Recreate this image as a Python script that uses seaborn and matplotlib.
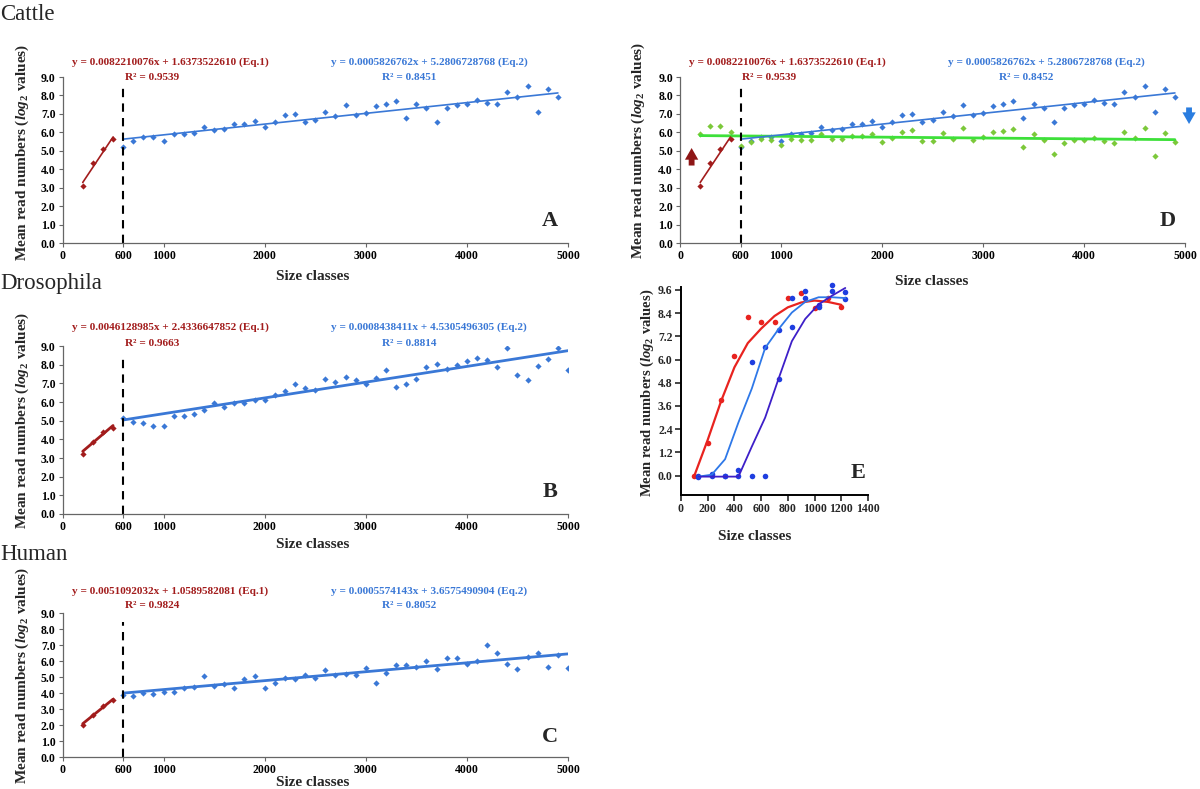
import numpy as np
import pandas as pd
import matplotlib
matplotlib.use("Agg")
import matplotlib.pyplot as plt
import seaborn as sns

W, H = 1200, 789

# ---- size classes ----
short_x = [200, 300, 400, 500]
cattle_x2 = list(range(600, 5000, 100))      # 600..4900
long_x = list(range(600, 5001, 100))         # 600..5000
green_x = list(range(200, 5000, 100))        # 200..4900

# ---- Cattle ----
cattle_y1 = [3.10, 4.35, 5.10, 5.62]
cattle_y2 = [5.22, 5.51, 5.72, 5.74, 5.55, 5.89, 5.91, 5.95, 6.31, 6.14,
             6.20, 6.44, 6.44, 6.62, 6.29, 6.54, 6.94, 7.02, 6.54, 6.65,
             7.09, 6.86, 7.46, 6.94, 7.07, 7.44, 7.55, 7.72, 6.79, 7.55,
             7.32, 6.58, 7.30, 7.46, 7.55, 7.74, 7.59, 7.51, 8.20, 7.92,
             8.53, 7.09, 8.36, 7.92]
cattle_green = [5.93, 6.37, 6.37, 6.01, 5.27, 5.46, 5.65, 5.61, 5.34, 5.63,
                5.59, 5.57, 5.89, 5.65, 5.65, 5.82, 5.78, 5.91, 5.49, 5.70,
                6.03, 6.10, 5.53, 5.55, 5.95, 5.65, 6.22, 5.61, 5.72, 6.03,
                6.08, 6.16, 5.19, 5.89, 5.61, 4.81, 5.44, 5.59, 5.61, 5.70,
                5.53, 5.40, 6.03, 5.71, 6.24, 4.73, 5.97, 5.46]
cattle_fit1 = (0.0082210076, 1.6373522610)
cattle_fit2 = (0.0005826762, 5.2806728768)

# ---- Drosophila ----
dros_y1 = [3.22, 3.87, 4.37, 4.62]
dros_y2 = [5.13, 4.94, 4.85, 4.71, 4.71, 5.25, 5.27, 5.36, 5.57, 5.92,
           5.74, 5.92, 5.92, 6.13, 6.09, 6.39, 6.60, 6.95, 6.76, 6.66,
           7.21, 7.08, 7.33, 7.16, 6.95, 7.29, 7.69, 6.81, 6.97, 7.21,
           7.90, 8.03, 7.77, 7.98, 8.19, 8.38, 8.24, 7.90, 8.91, 7.46,
           7.17, 7.93, 8.29, 8.90, 7.69]
dros_fit1 = (0.0046128985, 2.4336647852)
dros_fit2 = (0.0008438411, 4.5305496305)

# ---- Human ----
human_y1 = [2.02, 2.65, 3.19, 3.59]
human_y2 = [3.89, 3.84, 4.03, 3.93, 4.08, 4.08, 4.31, 4.35, 5.04, 4.43,
            4.54, 4.33, 4.89, 5.08, 4.31, 4.64, 4.94, 4.85, 5.15, 4.94,
            5.46, 5.11, 5.17, 5.11, 5.55, 4.64, 5.23, 5.78, 5.78, 5.65,
            6.01, 5.53, 6.20, 6.18, 5.80, 5.99, 7.00, 6.53, 5.80, 5.47,
            6.27, 6.51, 5.61, 6.40, 5.55]
human_fit1 = (0.0051092032, 1.0589582081)
human_fit2 = (0.0005574143, 3.6575490904)

# ---- panel E ----
e_red_x = [100, 200, 300, 400, 500, 600, 700, 800, 900, 1000, 1100, 1200]
e_red_pts = [0.0, 1.70, 3.89, 6.16, 8.19, 7.92, 7.95, 9.17, 9.45, 8.64, 9.17, 8.74]
e_red_curve = [0.0, 1.85, 3.85, 5.6, 6.85, 7.6, 8.25, 8.7, 8.95, 9.05, 8.98, 8.83]
e_blue_x = [130, 230, 330, 430, 530, 630, 730, 830, 930, 1030, 1130, 1230]
e_light_pts = [0.0, 0.09, 0.0, 0.29, 5.85, 6.63, 7.54, 9.16, 9.20, 8.80, 9.52, 9.12]
e_light_curve = [-0.05, 0.05, 0.85, 2.75, 4.5, 6.6, 7.57, 8.43, 8.98, 9.22, 9.22, 9.18]
e_purple_pts = [-0.05, 0.0, 0.0, 0.0, -0.03, 0.0, 5.0, 7.69, 9.52, 8.70, 9.86, 9.50]
e_purple_curve = [-0.05, -0.05, -0.05, -0.05, 1.5, 3.0, 5.0, 6.95, 8.1, 8.85, 9.3, 9.7]

x_ticks = [0, 600, 1000, 2000, 3000, 4000, 5000]
y_ticks = [0, 1, 2, 3, 4, 5, 6, 7, 8, 9]
e_x_ticks = [0, 200, 400, 600, 800, 1000, 1200, 1400]
e_y_ticks = [0.0, 1.2, 2.4, 3.6, 4.8, 6.0, 7.2, 8.4, 9.6]

RED = '#a21c1c'
BLUE = '#3a78d6'
GREEN_PT = '#7cc83a'
GREEN_LN = '#3ee03a'
YLABEL = 'Mean read numbers ($log_2$ values)'

sns.set_theme(style="ticks")
plt.rcParams['font.family'] = ['Liberation Serif', 'DejaVu Serif']
plt.rcParams['font.weight'] = 'bold'
plt.rcParams['mathtext.fontset'] = 'custom'
plt.rcParams['mathtext.rm'] = 'Liberation Serif:bold'
plt.rcParams['mathtext.it'] = 'Liberation Serif:italic:bold'
plt.rcParams['mathtext.bf'] = 'Liberation Serif:bold'

fig = plt.figure(figsize=(W / 100, H / 100), dpi=100)


def rect(x0, x1, ytop, ybot):
    return [x0 / W, 1 - ybot / H, (x1 - x0) / W, (ybot - ytop) / H]


def ftext(x, y, s, **kw):
    fig.text(x / W, 1 - y / H, s, **kw)


def fit_line(xs, fit):
    m, b = fit
    xe = [xs[0], xs[-1]]
    return xe, [m * v + b for v in xe]


def panel(box, x2, y1, y2, fit1, fit2, letter, lw, green=None):
    ax = fig.add_axes(box)
    sns.scatterplot(x=short_x, y=y1, ax=ax, color=RED, marker='D', s=10,
                    linewidth=0, legend=False)
    sns.scatterplot(x=x2, y=y2, ax=ax, color=BLUE, marker='D', s=10,
                    linewidth=0, legend=False)
    if green is not None:
        sns.scatterplot(x=green_x, y=green, ax=ax, color=GREEN_PT, marker='D',
                        s=10, linewidth=0, legend=False)
        gm, gb = np.polyfit(green_x, green, 1)
        sns.lineplot(x=[green_x[0], green_x[-1]],
                     y=[gm * green_x[0] + gb, gm * green_x[-1] + gb],
                     ax=ax, color=GREEN_LN, lw=2.0)
    lx, ly = fit_line(short_x, fit1)
    sns.lineplot(x=lx, y=ly, ax=ax, color=RED, lw=lw)
    lx, ly = fit_line(x2, fit2)
    sns.lineplot(x=lx, y=ly, ax=ax, color=BLUE, lw=lw)
    ax.vlines(600, 0, 8.45, colors='black', linestyles=(0, (4, 3)), lw=1.5)
    ax.set_xlim(0, 5000)
    ax.set_ylim(0, 9)
    ax.set_xticks(x_ticks)
    ax.set_xticklabels([str(v) for v in x_ticks])
    ax.set_yticks(y_ticks)
    ax.set_yticklabels([f'{v:.1f}' for v in y_ticks])
    ax.set_xlabel('')
    ax.set_ylabel('')
    sns.despine(ax=ax)
    for sp in ('left', 'bottom'):
        ax.spines[sp].set_color('#666666')
        ax.spines[sp].set_linewidth(0.9)
    ax.tick_params(direction='out', length=3, width=0.8, color='#666666',
                   labelsize=8.5, pad=2, labelcolor='black')
    for t in ax.get_xticklabels() + ax.get_yticklabels():
        t.set_fontweight('bold')
    ax.text(0.965, 0.07, letter, transform=ax.transAxes, fontsize=16,
            fontweight='bold', ha='center', va='bottom')
    return ax


def labels(dx, eq1, r1, eq2, r2, yeq, yr):
    kw = dict(fontsize=8.1, ha='center', va='center')
    ftext(170 + dx, yeq, eq1, color=RED, **kw)
    ftext(152 + dx, yr, r1, color=RED, **kw)
    ftext(429 + dx, yeq, eq2, color=BLUE, **kw)
    ftext(409 + dx, yr, r2, color=BLUE, **kw)


# A
panel(rect(62.5, 568, 77, 243), cattle_x2, cattle_y1, cattle_y2,
      cattle_fit1, cattle_fit2, 'A', 1.2)
labels(0, 'y = 0.0082210076x + 1.6373522610 (Eq.1)', 'R² = 0.9539',
       'y = 0.0005826762x + 5.2806728768 (Eq.2)', 'R² = 0.8451', 62, 77)
# D
axd = panel(rect(680, 1185, 77, 243), cattle_x2, cattle_y1, cattle_y2,
            cattle_fit1, cattle_fit2, 'D', 1.2, green=cattle_green)
labels(617.5, 'y = 0.0082210076x + 1.6373522610 (Eq.1)', 'R² = 0.9539',
       'y = 0.0005826762x + 5.2806728768 (Eq.2)', 'R² = 0.8452', 62, 77)
arrow = 'simple,head_width=0.8,head_length=0.7,tail_width=0.35'
axd.annotate('', xy=(115, 5.3), xytext=(115, 4.05),
             arrowprops=dict(arrowstyle=arrow, color='#8e1616', lw=0))
axd.annotate('', xy=(5040, 6.3), xytext=(5040, 7.5), annotation_clip=False,
             arrowprops=dict(arrowstyle=arrow, color='#2a7de0', lw=0))
# B
panel(rect(62.5, 568, 346, 514), long_x, dros_y1, dros_y2,
      dros_fit1, dros_fit2, 'B', 2.0)
labels(0, 'y = 0.0046128985x + 2.4336647852 (Eq.1)', 'R² = 0.9663',
       'y = 0.0008438411x + 4.5305496305 (Eq.2)', 'R² = 0.8814', 327, 343)
# C
panel(rect(62.5, 568, 613, 757), long_x, human_y1, human_y2,
      human_fit1, human_fit2, 'C', 2.0)
labels(0, 'y = 0.0051092032x + 1.0589582081 (Eq.1)', 'R² = 0.9824',
       'y = 0.0005574143x + 3.6575490904 (Eq.2)', 'R² = 0.8052', 591, 606)

# E
axe = fig.add_axes(rect(681, 868, 287, 495))
sns.lineplot(x=e_red_x, y=e_red_curve, ax=axe, color='#e8231f', lw=1.6)
sns.lineplot(x=e_blue_x, y=e_light_curve, ax=axe, color='#2e78e8', lw=1.3)
sns.lineplot(x=e_blue_x, y=e_purple_curve, ax=axe, color='#3d1fc8', lw=1.3)
sns.scatterplot(x=e_red_x, y=e_red_pts, ax=axe, color='#e8231f', s=16,
                linewidth=0, legend=False, clip_on=False)
sns.scatterplot(x=e_blue_x, y=e_light_pts, ax=axe, color='#1e3ee0', s=16,
                linewidth=0, legend=False, clip_on=False)
sns.scatterplot(x=e_blue_x, y=e_purple_pts, ax=axe, color='#1e3ee0', s=16,
                linewidth=0, legend=False, clip_on=False)
axe.set_xlim(0, 1400)
axe.set_ylim(-1.0, 9.75)
axe.set_xticks(e_x_ticks)
axe.set_xticklabels([str(v) for v in e_x_ticks])
axe.set_yticks(e_y_ticks)
axe.set_yticklabels([f'{v:.1f}' for v in e_y_ticks])
sns.despine(ax=axe)
for sp in ('left', 'bottom'):
    axe.spines[sp].set_color('black')
    axe.spines[sp].set_linewidth(1.4)
axe.tick_params(direction='out', length=4, width=1.2, labelsize=8.5, pad=2)
for t in axe.get_xticklabels() + axe.get_yticklabels():
    t.set_fontweight('bold')
axe.text(0.945, 0.06, 'E', transform=axe.transAxes, fontsize=16,
         fontweight='bold', ha='center', va='bottom')

# axis titles
for x, y in [(313, 276), (932, 282), (313, 545), (313, 782)]:
    ftext(x, y, 'Size classes', fontsize=11, ha='center', va='center')
ftext(755, 537, 'Size classes', fontsize=11, ha='center', va='center')
for x, y in [(22, 152), (638, 150), (22, 420), (22, 675)]:
    ftext(x, y, YLABEL, fontsize=11, rotation=90, ha='center', va='center')
ftext(647, 393, YLABEL, fontsize=10.5, rotation=90, ha='center', va='center')

# species headers
ftext(0, 14, 'Cattle', fontsize=16.5, fontweight='normal', va='center')
ftext(0, 283, 'Drosophila', fontsize=16.5, fontweight='normal', va='center')
ftext(0, 555, 'Human', fontsize=16.5, fontweight='normal', va='center')

fig.savefig('out.png', dpi=100)
